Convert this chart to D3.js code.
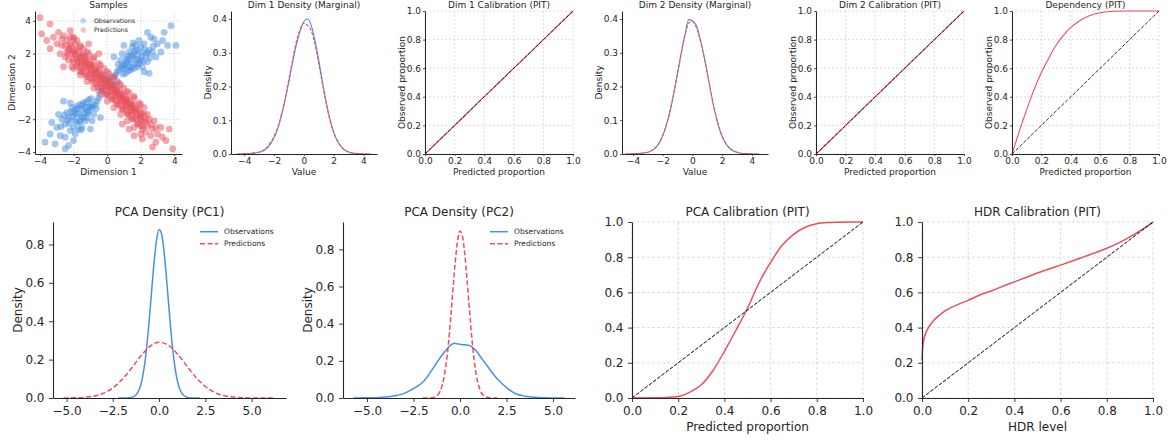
<!DOCTYPE html>
<html><head><meta charset="utf-8">
<script src="https://cdn.jsdelivr.net/npm/d3@7"></script>
<style>body{margin:0;background:#fff}svg{display:block;font-family:"DejaVu Sans",sans-serif}</style>
</head><body><svg id="c" width="1173" height="440"></svg>
<script>
// ---------------- DATA ----------------
const obsPoints = [
[1.2,1.5],[1.6,1.1],[0.9,1.3],[1.4,1.9],[2.0,1.6],[1.1,0.8],[1.8,2.2],[2.3,1.9],[0.7,1.0],[1.5,1.4],[1.3,2.1],[2.1,1.2],[1.7,1.7],[0.8,1.6],[1.0,1.1],[2.5,2.2],[2.2,2.6],[1.9,1.4],[1.2,1.8],[1.6,2.0],[2.7,2.1],[0.6,0.9],[1.4,1.0],[2.0,2.4],[1.1,1.4],[1.8,1.2],[2.4,1.5],[1.5,2.4],[3.0,2.6],[2.8,2.9],[0.9,2.0],[2.2,0.9],[1.3,1.2],[1.7,2.5],[3.3,2.8],[2.6,3.0],[3.6,2.5],[0.5,0.7],[2.9,1.8],[1.9,2.8],[3.8,3.7],[4.1,2.5],[2.4,3.3],[3.2,2.1],[0.4,1.8],[2.5,0.8],[1.0,2.5],[3.4,3.3],
[1.35,1.65],[1.75,1.35],[1.05,1.25],[1.55,1.85],[2.05,1.85],[1.25,0.95],[1.65,2.15],[2.15,1.55],[0.85,1.15],[1.45,1.15],[1.95,2.05],[2.35,2.05],[1.15,1.65],[1.85,1.65],[0.95,0.75],[2.55,1.75],[1.55,2.65],[2.75,2.45],[0.65,1.35],[2.25,2.25],
[-1.2,-1.5],[-1.6,-1.1],[-0.9,-1.3],[-1.4,-1.9],[-2.0,-1.6],[-1.1,-0.8],[-1.8,-2.2],[-2.3,-1.9],[-0.7,-1.1],[-1.5,-1.4],[-1.3,-2.1],[-2.1,-1.3],[-1.7,-1.7],[-0.8,-1.7],[-1.0,-1.2],[-2.5,-2.3],[-2.2,-2.7],[-1.9,-1.4],[-1.2,-1.9],[-1.6,-2.1],[-2.7,-2.0],[-0.6,-0.9],[-1.4,-1.0],[-2.0,-2.5],[-1.1,-1.5],[-1.8,-1.2],[-2.4,-1.6],[-1.5,-2.5],[-3.0,-2.5],[-2.8,-3.0],[-0.9,-2.1],[-2.2,-1.0],[-1.3,-1.3],[-1.7,-2.6],[-3.4,-2.9],[-2.5,-3.1],[-3.3,-2.2],[-0.5,-0.7],[-2.9,-1.7],[-1.9,-2.9],[-2.3,-3.6],[-3.7,-3.4],[-2.0,-3.3],[-2.6,-0.9],[-0.4,-1.9],[-3.1,-3.5],[-1.0,-2.6],[-2.5,-3.8],
[-1.35,-1.65],[-1.75,-1.35],[-1.05,-1.25],[-1.55,-1.85],[-2.05,-1.85],[-1.25,-0.95],[-1.65,-2.15],[-2.15,-1.55],[-0.85,-1.15],[-1.45,-1.15],[-1.95,-2.05],[-2.35,-2.05],[-1.15,-1.65],[-1.85,-1.65],[-0.95,-0.75],[-2.55,-1.75],[-1.55,-2.65],[-2.75,-2.45],[-0.65,-1.35],[-2.25,-2.25],
[0.2,0.3],[-0.3,-0.1],[0.4,0.1],[0.0,0.5],[-0.5,-0.3],[0.3,0.6],[-0.1,-0.5],[0.6,0.3]
];
const predPoints = [
[-3.0,2.6],[-2.9,3.3],[-3.2,3.0],[-2.8,2.0],[-2.7,2.5],[-2.6,3.1],[-2.5,1.8],[-2.7,2.9],
[-2.4,2.1],[-2.4,2.8],[-2.3,1.6],[-2.5,2.5],[-2.2,3.0],[-2.3,2.3],
[-2.1,2.0],[-2.0,1.5],[-2.2,2.6],[-1.9,2.6],[-2.0,2.2],[-2.1,1.2],[-2.0,3.0],
[-1.8,1.7],[-1.7,2.1],[-1.9,1.9],[-1.6,2.4],[-1.8,1.2],[-1.7,1.5],[-1.8,2.8],[-1.6,0.9],
[-1.5,1.4],[-1.4,1.9],[-1.6,1.6],[-1.3,1.5],[-1.5,0.9],[-1.4,2.3],[-1.6,1.2],[-1.5,1.8],[-1.3,0.7],
[-1.2,1.1],[-1.1,1.6],[-1.3,1.2],[-1.0,1.3],[-1.2,0.6],[-1.1,2.0],[-1.3,1.8],[-1.2,1.4],[-1.0,0.8],
[-0.9,0.8],[-0.8,1.3],[-1.0,1.0],[-0.7,1.0],[-0.9,0.3],[-0.8,1.7],[-1.0,0.5],[-0.9,1.2],[-0.7,0.6],
[-0.6,0.5],[-0.5,1.0],[-0.7,0.7],[-0.4,0.7],[-0.6,0.0],[-0.5,1.4],[-0.7,0.2],[-0.6,0.9],[-0.4,0.3],
[-0.3,0.2],[-0.2,0.7],[-0.4,0.4],[-0.1,0.4],[-0.3,-0.3],[-0.2,1.1],[-0.4,-0.1],[-0.3,0.6],[-0.1,0.0],
[0.0,0.0],[0.1,0.4],[-0.1,0.1],[0.2,0.1],[0.0,-0.5],[0.1,0.8],[-0.1,-0.3],[0.0,0.3],[0.2,-0.3],
[0.3,-0.3],[0.4,0.1],[0.2,-0.1],[0.5,-0.2],[0.3,-0.8],[0.4,0.5],[0.2,-0.6],[0.3,0.0],[0.5,-0.6],
[0.6,-0.6],[0.7,-0.2],[0.5,-0.4],[0.8,-0.5],[0.6,-1.1],[0.7,0.2],[0.5,-0.9],[0.6,-0.3],[0.8,-0.9],
[0.9,-0.9],[1.0,-0.5],[0.8,-0.7],[1.1,-0.8],[0.9,-1.4],[1.0,-0.1],[0.8,-1.2],[0.9,-0.6],[1.1,-1.2],
[1.2,-1.2],[1.3,-0.8],[1.1,-1.0],[1.4,-1.1],[1.2,-1.7],[1.3,-0.4],[1.1,-1.5],[1.2,-0.9],[1.4,-1.5],
[1.5,-1.5],[1.6,-1.1],[1.4,-1.3],[1.7,-1.4],[1.5,-2.0],[1.6,-0.7],[1.4,-1.8],[1.5,-1.2],
[1.8,-1.8],[1.9,-1.4],[1.7,-1.6],[2.0,-1.7],[1.8,-2.3],[1.9,-1.0],[1.7,-2.0],
[2.1,-2.1],[2.2,-1.7],[2.0,-2.0],[2.3,-2.0],[2.1,-2.6],[2.2,-1.3],[2.0,-2.4],
[2.4,-2.4],[2.5,-2.0],[2.3,-2.8],[2.6,-2.3],[2.4,-1.7],
[2.7,-2.6],[2.8,-2.1],[2.6,-3.0],[2.9,-2.5],
[3.0,-2.9],[3.2,-2.5],[2.9,-3.4],[3.3,-3.1],
[-2.25,2.25],[-1.95,2.05],[-1.65,1.75],[-1.35,1.45],[-1.05,1.15],[-0.75,0.85],[-0.45,0.55],[-0.15,0.25],[0.15,-0.05],[0.45,-0.35],[0.75,-0.65],[1.05,-0.95],[1.35,-1.25],[1.65,-1.55],[1.95,-1.85],[2.25,-2.15],
[-2.15,2.45],[-1.85,2.25],[-1.55,1.95],[-1.25,1.65],[-0.95,1.35],[-0.65,1.05],[-0.35,0.75],[-0.05,0.45],[0.25,0.15],[0.55,-0.15],[0.85,-0.45],[1.15,-0.75],[1.45,-1.05],[1.75,-1.35],[2.05,-1.65],
[-2.35,1.95],[-2.05,1.65],[-1.75,1.35],[-1.45,1.05],[-1.15,0.75],[-0.85,0.45],[-0.55,0.15],[-0.25,-0.15],[0.05,-0.45],[0.35,-0.75],[0.65,-1.05],[0.95,-1.35],[1.25,-1.65],[1.55,-1.95],[1.85,-2.25],[2.15,-2.45],
[-2.0,2.9],[-1.6,2.5],[-1.2,2.1],[-0.8,1.8],[-0.4,1.3],[0.0,0.9],[0.4,0.6],[0.8,0.1],[1.2,-0.3],[1.6,-0.6],[2.0,-1.1],
[-2.0,1.1],[-1.6,0.7],[-1.2,0.3],[-0.8,-0.1],[-0.4,-0.5],[0.0,-0.9],[0.4,-1.3],[0.8,-1.7],[1.2,-2.1],[1.6,-2.5],[2.0,-2.9],
[-4.0,4.2],[-3.4,3.8],[-3.9,3.2],[-3.4,2.3],[-3.6,2.8],[3.5,-3.3],[2.7,-3.7],[3.7,-2.6],[-2.2,3.4],[1.6,-3.0],[-1.1,2.6],[0.9,-2.3],[2.1,-3.2],[-0.5,2.0],[3.9,-3.8],[-2.6,1.2],[1.3,-2.6]
];

const dimGrid = [-4.5,-4.25,-4,-3.75,-3.5,-3.25,-3,-2.75,-2.5,-2.25,-2,-1.75,-1.5,-1.25,-1,-0.75,-0.5,-0.25,0,0.25,0.5,0.75,1,1.25,1.5,1.75,2,2.25,2.5,2.75,3,3.25,3.5,3.75,4,4.25,4.5];
const dim1Obs  = [0,0,0.001,0.001,0.002,0.003,0.005,0.009,0.016,0.029,0.048,0.076,0.114,0.162,0.216,0.272,0.324,0.364,0.392,0.400,0.380,0.336,0.278,0.214,0.154,0.103,0.064,0.038,0.022,0.012,0.006,0.003,0.002,0.001,0,0,0];
const dim1Pred = [0,0,0.001,0.001,0.002,0.004,0.006,0.010,0.019,0.033,0.052,0.080,0.118,0.166,0.222,0.280,0.333,0.370,0.388,0.381,0.365,0.325,0.268,0.207,0.150,0.101,0.064,0.040,0.023,0.012,0.006,0.003,0.001,0.001,0,0,0];
const dim2Obs  = [0,0,0.001,0.001,0.002,0.003,0.005,0.010,0.018,0.032,0.054,0.086,0.128,0.180,0.240,0.300,0.355,0.398,0.394,0.382,0.345,0.296,0.240,0.180,0.126,0.083,0.051,0.030,0.017,0.009,0.005,0.002,0.001,0.001,0,0,0];
const dim2Pred = [0,0,0.001,0.001,0.002,0.003,0.005,0.010,0.018,0.032,0.055,0.088,0.130,0.182,0.241,0.300,0.352,0.388,0.393,0.376,0.340,0.293,0.238,0.180,0.128,0.085,0.053,0.031,0.018,0.010,0.005,0.002,0.001,0.001,0,0,0];

const calGrid  = [0,0.1,0.2,0.3,0.4,0.5,0.6,0.7,0.8,0.9,1.0];
const dim1Cal  = [0,0.1,0.199,0.3,0.401,0.5,0.6,0.699,0.8,0.9,1.0];
const dim2Cal  = [0,0.098,0.199,0.3,0.4,0.5,0.601,0.7,0.8,0.9,1.0];

const depP = [0,0.05,0.1,0.15,0.2,0.25,0.3,0.35,0.4,0.45,0.5,0.55,0.6,0.65,0.7,0.8,0.9,1.0];
const depO = [0,0.16,0.31,0.45,0.57,0.67,0.76,0.83,0.885,0.925,0.955,0.975,0.988,0.995,0.998,1.0,1.0,1.0];

const pc1ObsX = [-2.2,-2,-1.75,-1.5,-1.25,-1.125,-1,-0.875,-0.75,-0.625,-0.5,-0.375,-0.25,-0.125,0,0.125,0.25,0.375,0.5,0.625,0.75,0.875,1,1.125,1.25,1.5,1.75,2,2.2];
const pc1Obs  = [0,0.00003,0.0004,0.0027,0.0153,0.033,0.064,0.117,0.196,0.305,0.44,0.587,0.725,0.829,0.878,0.86,0.781,0.656,0.51,0.367,0.245,0.151,0.086,0.046,0.0224,0.0042,0.0006,0.00006,0];
const pc1PredX = [-5.16,-4.5,-4,-3.5,-3,-2.5,-2,-1.5,-1,-0.5,0,0.5,1,1.5,2,2.5,3,3.5,4,4.5,5,5.5,6,6.29];
const pc1Pred  = [0.0003,0.0012,0.0039,0.0105,0.025,0.0525,0.096,0.154,0.217,0.268,0.29,0.275,0.229,0.167,0.107,0.060,0.029,0.0127,0.0048,0.0016,0.0005,0.0001,0.00003,0.00001];

const pc2ObsX = [-5.72,-5,-4.5,-4,-3.5,-3,-2.5,-2.25,-2,-1.75,-1.5,-1.25,-1,-0.75,-0.5,-0.3,-0.1,0.1,0.3,0.5,0.7,0.9,1.1,1.3,1.5,1.75,2,2.25,2.5,2.75,3,3.5,4,4.5,5,5.62];
const pc2Obs  = [0,0.001,0.002,0.005,0.012,0.025,0.050,0.066,0.085,0.115,0.152,0.19,0.226,0.258,0.285,0.294,0.290,0.287,0.286,0.283,0.27,0.25,0.222,0.195,0.168,0.133,0.103,0.078,0.056,0.037,0.023,0.010,0.004,0.0015,0.0005,0];
const pc2PredX = [-2,-1.75,-1.5,-1.25,-1.125,-1,-0.875,-0.75,-0.625,-0.5,-0.375,-0.25,-0.125,0,0.125,0.25,0.375,0.5,0.625,0.75,0.875,1,1.125,1.25,1.5,1.75,2];
const pc2Pred  = [0,0.0002,0.0018,0.0115,0.026,0.054,0.104,0.182,0.29,0.434,0.59,0.739,0.85,0.899,0.873,0.78,0.64,0.483,0.335,0.213,0.124,0.067,0.033,0.015,0.0024,0.0003,0];

const pcaP = [0,0.1,0.15,0.2,0.25,0.3,0.35,0.4,0.45,0.5,0.55,0.6,0.65,0.7,0.75,0.8,0.85,0.9,0.95,1.0];
const pcaO = [0,0.001,0.003,0.008,0.033,0.075,0.155,0.265,0.385,0.51,0.655,0.77,0.868,0.93,0.97,0.99,0.997,0.999,1.0,1.0];

const hdrP = [0,0.002,0.005,0.01,0.02,0.03,0.05,0.075,0.1,0.15,0.2,0.25,0.3,0.35,0.4,0.45,0.5,0.55,0.6,0.65,0.7,0.75,0.8,0.85,0.9,0.95,1.0];
const hdrO = [0.215,0.27,0.31,0.345,0.38,0.405,0.44,0.47,0.495,0.528,0.555,0.585,0.608,0.635,0.66,0.685,0.71,0.733,0.755,0.778,0.802,0.826,0.851,0.88,0.915,0.955,1.0];

const samplesTicks = [-4,-2,0,2,4];
const densTicksY = [0,0.1,0.2,0.3,0.4];
const pcTicksX = [-5,-2.5,0,2.5,5];
const pcTicksY = [0,0.2,0.4,0.6,0.8];
const propTicks = [0,0.2,0.4,0.6,0.8,1.0];
const seriesNames = ["Observations","Predictions"];

// ---------------- DRAW ----------------
const BLUE = "#4a90e2", RED = "#e8505b", INK = "#262626";
const svg = d3.select("#c");

function panel(o){
  const x = d3.scaleLinear().domain(o.xd).range([o.l,o.r]);
  const y = d3.scaleLinear().domain(o.yd).range([o.b,o.t]);
  const g = svg.append("g");
  if(o.grid){
    const gg = g.append("g").attr("stroke","#cfcfcf").attr("stroke-width",0.7).attr("stroke-dasharray",o.gridDash||"3,2");
    gg.selectAll("line.gx").data(o.xt).join("line").attr("class","gx")
      .attr("x1",d=>x(d)).attr("x2",d=>x(d)).attr("y1",o.t).attr("y2",o.b);
    gg.selectAll("line.gy").data(o.yt).join("line").attr("class","gy")
      .attr("y1",d=>y(d)).attr("y2",d=>y(d)).attr("x1",o.l).attr("x2",o.r);
  }
  const data = g.append("g");
  const ax = g.append("g").attr("transform",`translate(0,${o.b})`)
    .call(d3.axisBottom(x).tickValues(o.xt).tickFormat(o.xf).tickSize(o.ts).tickPadding(o.tp).tickSizeOuter(0));
  const ay = g.append("g").attr("transform",`translate(${o.l},0)`)
    .call(d3.axisLeft(y).tickValues(o.yt).tickFormat(o.yf).tickSize(o.ts).tickPadding(o.tp).tickSizeOuter(0));
  [ax,ay].forEach(a=>{
    a.attr("font-size",o.fs).attr("font-family","DejaVu Sans");
    a.select(".domain").attr("stroke",INK).attr("stroke-width",o.sw);
    a.selectAll(".tick line").attr("stroke",INK).attr("stroke-width",o.sw*0.8);
    a.selectAll(".tick text").attr("fill",INK);
  });
  g.append("text").attr("x",(o.l+o.r)/2).attr("y",o.titleY).attr("text-anchor","middle")
    .attr("font-size",o.fs).attr("fill",INK).text(o.title);
  if(o.xlabel) g.append("text").attr("x",(o.l+o.r)/2).attr("y",o.xlabelY).attr("text-anchor","middle")
    .attr("font-size",o.fs).attr("fill",INK).text(o.xlabel);
  if(o.ylabel) g.append("text").attr("transform",`translate(${o.l-o.ylOff},${(o.t+o.b)/2}) rotate(-90)`)
    .attr("text-anchor","middle").attr("font-size",o.fs).attr("fill",INK).text(o.ylabel);
  return {x,y,g:data};
}

const fmt1 = d3.format(".1f"), fmtD = d3.format("d");
const topRow = {t:11,b:154,fs:9,ts:2,tp:2,sw:1,titleY:8,xlabelY:175,ylOff:20};
const botRow = {t:222,b:398,fs:12,ts:4,tp:4.5,sw:1.1,titleY:215.5,xlabelY:431,ylOff:31};

function line(p, xs, ys, color, w, dash){
  const pts = xs.map((v,i)=>[v,ys[i]]);
  p.g.append("path").datum(pts)
    .attr("d", d3.line().x(d=>p.x(d[0])).y(d=>p.y(d[1])).curve(d3.curveMonotoneX))
    .attr("fill","none").attr("stroke",color).attr("stroke-width",w)
    .attr("stroke-dasharray",dash||null).attr("stroke-linejoin","round");
}
function diag(p, w){
  p.g.append("line").attr("x1",p.x(0)).attr("y1",p.y(0)).attr("x2",p.x(1)).attr("y2",p.y(1))
    .attr("stroke","#000").attr("stroke-width",w).attr("stroke-dasharray","3.7,1.6");
}

// 1. Samples
const p1 = panel({...topRow,l:35,r:182,xd:[-4.3,4.46],yd:[-4.12,4.6],xt:samplesTicks,yt:samplesTicks,xf:fmtD,yf:fmtD,
  grid:true,gridDash:"1.5,1.5",title:"Samples",xlabel:"Dimension 1",ylabel:"Dimension 2"});
p1.g.selectAll("circle.o").data(obsPoints).join("circle").attr("class","o")
  .attr("cx",d=>p1.x(d[0])).attr("cy",d=>p1.y(d[1])).attr("r",3.4).attr("fill",BLUE).attr("fill-opacity",0.5);
p1.g.selectAll("circle.p").data(predPoints).join("circle").attr("class","p")
  .attr("cx",d=>p1.x(d[0])).attr("cy",d=>p1.y(d[1])).attr("r",3.4).attr("fill",RED).attr("fill-opacity",0.5);
const lg1 = p1.g.append("g");
lg1.selectAll("circle").data(seriesNames).join("circle").attr("cx",83.3).attr("cy",(d,i)=>20.7+i*9.3)
  .attr("r",2.8).attr("fill",(d,i)=>i?RED:BLUE).attr("fill-opacity",0.35);
lg1.selectAll("text").data(seriesNames).join("text").attr("x",94).attr("y",(d,i)=>20.7+i*9.3).attr("dy","0.35em")
  .attr("font-size",6.2).attr("fill",INK).text(d=>d);

// 2. Dim 1 density
const p2 = panel({...topRow,l:231,r:377,xd:[-4.89,4.91],yd:[0,0.4237],xt:samplesTicks,yt:densTicksY,xf:fmtD,yf:fmt1,
  title:"Dim 1 Density (Marginal)",xlabel:"Value",ylabel:"Density"});
line(p2, dimGrid, dim1Obs, BLUE, 1.1);
line(p2, dimGrid, dim1Pred, RED, 1.1, "3.5,1.5");

// 3. Dim 1 calibration
const p3 = panel({...topRow,l:425,r:573,xd:[0,1],yd:[0,1],xt:propTicks,yt:propTicks,xf:fmt1,yf:fmt1,grid:true,gridDash:"2,2",
  title:"Dim 1 Calibration (PIT)",xlabel:"Predicted proportion",ylabel:"Observed proportion"});
line(p3, calGrid, dim1Cal, RED, 1.1);
diag(p3, 0.8);

// 4. Dim 2 density
const p4 = panel({...topRow,l:622,r:768,xd:[-4.74,5.08],yd:[0,0.4237],xt:samplesTicks,yt:densTicksY,xf:fmtD,yf:fmt1,
  title:"Dim 2 Density (Marginal)",xlabel:"Value",ylabel:"Density"});
line(p4, dimGrid, dim2Obs, BLUE, 1.1);
line(p4, dimGrid, dim2Pred, RED, 1.1, "3.5,1.5");

// 5. Dim 2 calibration
const p5 = panel({...topRow,l:816,r:964,xd:[0,1],yd:[0,1],xt:propTicks,yt:propTicks,xf:fmt1,yf:fmt1,grid:true,gridDash:"2,2",
  title:"Dim 2 Calibration (PIT)",xlabel:"Predicted proportion",ylabel:"Observed proportion"});
line(p5, calGrid, dim2Cal, RED, 1.1);
diag(p5, 0.8);

// 6. Dependency
const p6 = panel({...topRow,l:1012,r:1159,xd:[0,1],yd:[0,1],xt:propTicks,yt:propTicks,xf:fmt1,yf:fmt1,grid:true,gridDash:"2,2",
  title:"Dependency (PIT)",xlabel:"Predicted proportion",ylabel:"Observed proportion"});
line(p6, depP, depO, RED, 1.1);
diag(p6, 0.8);

// 7. PCA density PC1
function pcLegend(p, x0){
  const lg = p.g.append("g");
  seriesNames.forEach((n,i)=>{
    const yy = 231.7 + i*12;
    lg.append("line").attr("x1",x0).attr("x2",x0+18).attr("y1",yy).attr("y2",yy)
      .attr("stroke",i?RED:BLUE).attr("stroke-width",1.5).attr("stroke-dasharray",i?"5,2.5":null);
    lg.append("text").attr("x",x0+24).attr("y",yy).attr("dy","0.35em").attr("font-size",7.5).attr("fill",INK).text(n);
  });
}
const p7 = panel({...botRow,l:53,r:286,xd:[-5.73,6.86],yd:[0,0.917],xt:pcTicksX,yt:pcTicksY,xf:fmt1,yf:fmt1,
  title:"PCA Density (PC1)",ylabel:"Density"});
line(p7, pc1ObsX, pc1Obs, BLUE, 1.5);
line(p7, pc1PredX, pc1Pred, RED, 1.5, "5,2.5");
pcLegend(p7, 200);

// 8. PCA density PC2
const p8 = panel({...botRow,l:343,r:575,xd:[-6.29,6.18],yd:[0,0.947],xt:pcTicksX,yt:pcTicksY,xf:fmt1,yf:fmt1,
  title:"PCA Density (PC2)",ylabel:"Density"});
line(p8, pc2ObsX, pc2Obs, BLUE, 1.5);
line(p8, pc2PredX, pc2Pred, RED, 1.5, "5,2.5");
pcLegend(p8, 490);

// 9. PCA calibration
const p9 = panel({...botRow,l:632,r:863,xd:[0,1],yd:[0,1],xt:propTicks,yt:propTicks,xf:fmt1,yf:fmt1,grid:true,gridDash:"3,2",
  title:"PCA Calibration (PIT)",xlabel:"Predicted proportion"});
line(p9, pcaP, pcaO, RED, 1.5);
diag(p9, 1);

// 10. HDR calibration
const p10 = panel({...botRow,l:922,r:1153,xd:[0,1],yd:[0,1],xt:propTicks,yt:propTicks,xf:fmt1,yf:fmt1,grid:true,gridDash:"3,2",
  title:"HDR Calibration (PIT)",xlabel:"HDR level"});
line(p10, hdrP, hdrO, RED, 1.5);
diag(p10, 1);
</script></body></html>
